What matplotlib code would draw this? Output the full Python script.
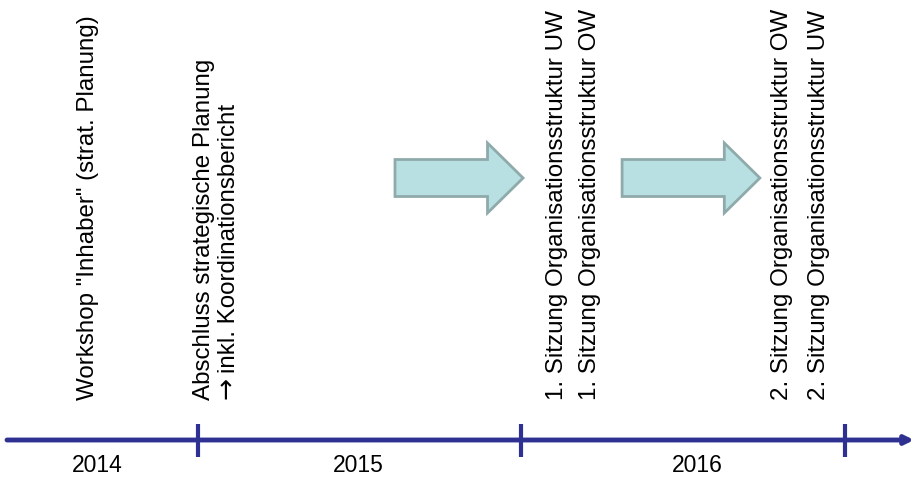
import matplotlib.pyplot as plt
from matplotlib.patches import FancyArrow

plt.rcParams['font.family'] = ['Liberation Sans', 'DejaVu Sans']

# Zeitachse: 1.0 = Beginn 2015, 2.0 = Beginn 2016, 3.0 = Beginn 2017
year_labels = ['2014', '2015', '2016']
year_label_pos = [0.69, 1.495, 2.545]
year_ticks = [1.0, 2.0, 3.0]

# jede Zeile eines Ereignisses einzeln (Position, Text)
event_pos = [0.66, 1.018, 1.095, 2.11, 2.213, 2.805, 2.92]
event_texts = [
    'Workshop "Inhaber" (strat. Planung)',
    'Abschluss strategische Planung',
    'inkl. Koordinationsbericht',
    '1. Sitzung Organisationsstruktur UW',
    '1. Sitzung Organisationsstruktur OW',
    '2. Sitzung Organisationsstruktur OW',
    '2. Sitzung Organisationsstruktur UW',
]
# unteres Ende der Zeilen (Zeile mit Pfeil beginnt weiter oben)
event_bottom = [400, 400, 373, 400, 400, 400, 400]

# Pfeile zwischen den Ereignissen (Start, Ende)
arrow_start = [1.609, 2.311]
arrow_end = [2.005, 2.737]

axis_color = '#2E3192'

fig = plt.figure(figsize=(9.15, 4.78), dpi=100)
ax = fig.add_axes([0, 0, 1, 1])
ax.set_xlim(0.388, 0.388 + 915 / 323.5)
ax.set_ylim(478, 0)
ax.axis('off')

# Zeitstrahl
x0 = 0.388 + 7 / 323.5
x1 = 0.388 + 914 / 323.5
ax.annotate('', xy=(x1, 440), xytext=(x0, 440),
            arrowprops=dict(arrowstyle='-|>,head_length=0.5,head_width=0.25',
                            color=axis_color, lw=3.5, shrinkA=0, shrinkB=0))
for t in year_ticks:
    ax.plot([t, t], [424, 457], color=axis_color, lw=3, solid_capstyle='butt')

for lab, xp in zip(year_labels, year_label_pos):
    ax.text(xp, 466, lab, ha='center', va='center', fontsize=16.5)

for xp, yb, txt in zip(event_pos, event_bottom, event_texts):
    ax.text(xp, yb, txt, rotation=90, ha='center', va='bottom',
            fontsize=17.4)

# Pfeilzeichen vor "inkl." (groesser als in Liberation Sans)
ax.text(event_pos[2] - 0.004, 399, '\u2192', rotation=90, ha='center',
        va='bottom', fontsize=19, family=['DejaVu Sans'])

for s, e in zip(arrow_start, arrow_end):
    length = e - s
    ax.add_patch(FancyArrow(s, 178, length, 0, width=37, head_width=70,
                            head_length=0.11, length_includes_head=True,
                            facecolor='#B8E0E2', edgecolor='#8FAAAA', lw=2))

fig.savefig('out.png', dpi=100)
